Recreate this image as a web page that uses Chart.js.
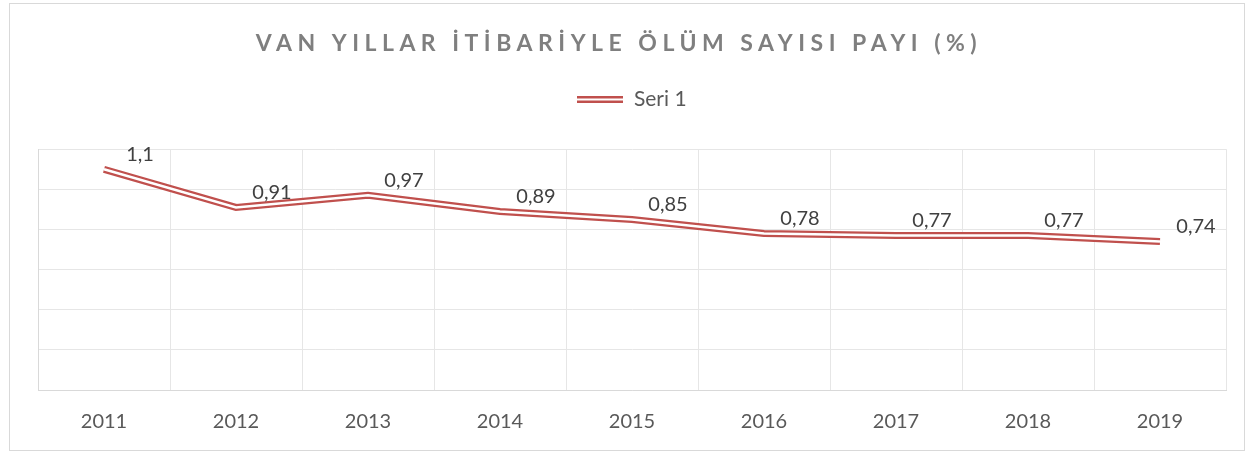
<!DOCTYPE html>
<html>
<head>
<meta charset="utf-8">
<script src="https://cdn.jsdelivr.net/npm/chart.js@4/dist/chart.umd.min.js"></script>
<style>
    html, body { margin: 0; padding: 0; background: #fff; }
    #frame {
        position: absolute; left: 9px; top: 3px;
        width: 1234px; height: 446px;
        border: 1px solid #d9d9d9;
    }
    #chart { display: block; }
</style>
</head>
<body>
<div id="frame"><canvas id="chart" width="1234" height="446"></canvas></div>
<script>
// veriler
const years = ['2011', '2012', '2013', '2014', '2015', '2016', '2017', '2018', '2019'];
const seri1 = [1.1, 0.91, 0.97, 0.89, 0.85, 0.78, 0.77, 0.77, 0.74];
const yTicks = [0, 0.2, 0.4, 0.6, 0.8, 1.0, 1.2];

const titleText = 'VAN YILLAR İTİBARİYLE ÖLÜM SAYISI PAYI (%)';
const RED = '#c0504d';
const FONT = 'Lato, "Noto Sans", sans-serif';

// legend icon: double red line
function makeLegendIcon() {
    const c = document.createElement('canvas');
    c.width = 46;
    c.height = 7;
    const g = c.getContext('2d');
    g.fillStyle = RED;
    g.fillRect(0, 0, 46, 7);
    g.fillStyle = '#fff';
    g.fillRect(0, 2.5, 46, 2);
    return c;
}

const titlePlugin = {
    id: 'spacedTitle',
    afterDraw(chart) {
        const ctx = chart.ctx;
        ctx.save();
        ctx.font = 'bold 23px ' + FONT;
        ctx.fillStyle = '#7f7f7f';
        ctx.letterSpacing = '5.5px';
        ctx.textAlign = 'center';
        ctx.textBaseline = 'middle';
        ctx.fillText(titleText, 609, 40);
        ctx.restore();
    }
};

const labelPlugin = {
    id: 'pointLabels',
    afterDatasetsDraw(chart) {
        const ctx = chart.ctx;
        const meta = chart.getDatasetMeta(0);
        ctx.save();
        ctx.font = '20px ' + FONT;
        ctx.fillStyle = '#404040';
        ctx.textAlign = 'center';
        ctx.textBaseline = 'middle';
        meta.data.forEach((pt, i) => {
            const txt = String(seri1[i]).replace('.', ',');
            ctx.fillText(txt, pt.x + 36, pt.y - 15);
        });
        ctx.restore();
    }
};

new Chart(document.getElementById('chart'), {
    type: 'line',
    data: {
        labels: years,
        datasets: [
            {
                label: 'Seri 1',
                data: seri1,
                borderColor: RED,
                backgroundColor: RED,
                borderWidth: 7,
                pointRadius: 0,
                tension: 0,
                order: 1
            },
            {
                label: 'inner',
                data: seri1,
                borderColor: '#ffffff',
                borderWidth: 2.5,
                pointRadius: 0,
                tension: 0,
                order: 0
            }
        ]
    },
    options: {
        responsive: false,
        animation: false,
        layout: { padding: { top: 49, left: 28, right: 18, bottom: 0 } },
        plugins: {
            // empty title used only as spacer between legend and plot
            title: {
                display: true,
                text: ' ',
                position: 'top',
                weight: 500,
                font: { size: 1 },
                padding: { top: 0, bottom: 28 }
            },
            tooltip: { enabled: false },
            legend: {
                position: 'top',
                labels: {
                    filter: item => item.datasetIndex === 0,
                    usePointStyle: true,
                    pointStyle: makeLegendIcon(),
                    pointStyleWidth: 46,
                    boxHeight: 7,
                    padding: 36,
                    color: '#595959',
                    font: { family: FONT, size: 21 }
                }
            }
        },
        scales: {
            x: {
                offset: true,
                afterFit: axis => { axis.height = 60; },
                grid: { color: '#e6e6e6', offset: true, drawTicks: false },
                border: { color: '#d9d9d9' },
                ticks: {
                    color: '#595959',
                    padding: 20,
                    font: { family: FONT, size: 20 }
                }
            },
            y: {
                min: 0,
                max: 1.2,
                afterBuildTicks: axis => { axis.ticks = yTicks.map(v => ({ value: v })); },
                afterFit: axis => { axis.width = 0; },
                grid: { color: '#e6e6e6', drawTicks: false },
                border: { color: '#d9d9d9' },
                ticks: { display: false }
            }
        }
    },
    plugins: [titlePlugin, labelPlugin]
});
</script>
</body>
</html>
